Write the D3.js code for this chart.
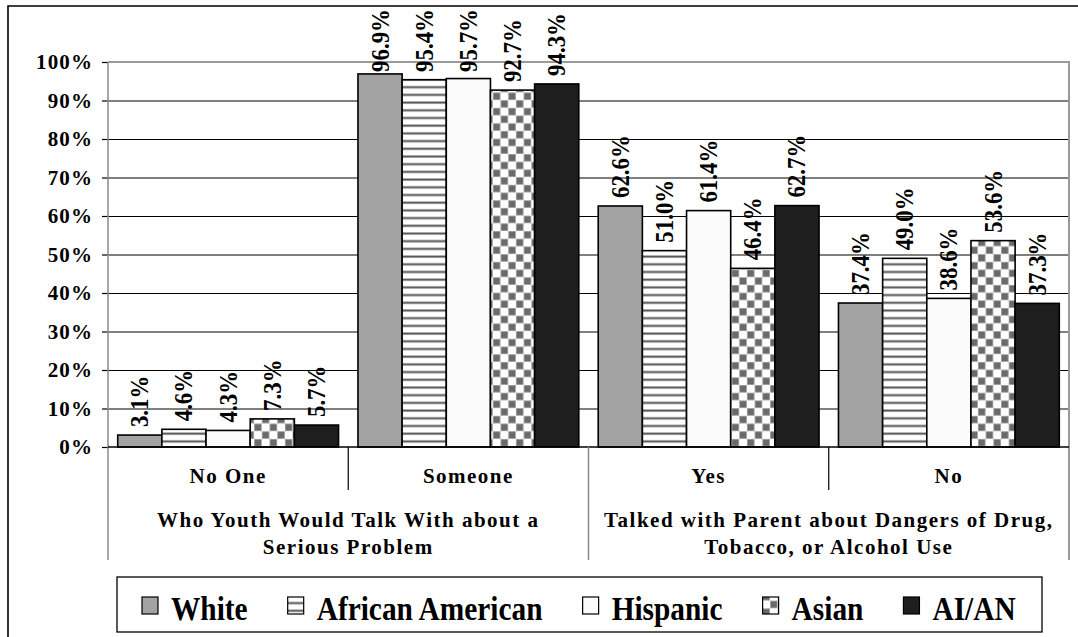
<!DOCTYPE html>
<html>
<head>
<meta charset="utf-8">
<script src="https://cdn.jsdelivr.net/npm/d3@7"></script>
<style>
  html, body { margin: 0; padding: 0; background: #fff; }
  svg { display: block; }
  text { font-family: "Liberation Serif", "Times New Roman", serif; font-weight: bold; fill: #000; }
</style>
</head>
<body>
<svg id="chart" width="1078" height="637"></svg>
<script>
// ---------------- DATA ----------------
const categories = ["No One", "Someone", "Yes", "No"];
const groupLabels = [
  ["Who Youth Would Talk With about a", "Serious Problem"],
  ["Talked with Parent about Dangers of Drug,", "Tobacco, or Alcohol Use"]
];
const groupSizes = [2, 2];
const seriesNames = ["White", "African American", "Hispanic", "Asian", "AI/AN"];
const whiteValues    = [3.1, 96.9, 62.6, 37.4];
const africanValues  = [4.6, 95.4, 51.0, 49.0];
const hispanicValues = [4.3, 95.7, 61.4, 38.6];
const asianValues    = [7.3, 92.7, 46.4, 53.6];
const aianValues     = [5.7, 94.3, 62.7, 37.3];
const yTickValues = [0, 10, 20, 30, 40, 50, 60, 70, 80, 90, 100];
const yTickLabels = ["0%", "10%", "20%", "30%", "40%", "50%", "60%", "70%", "80%", "90%", "100%"];

const seriesValues = [whiteValues, africanValues, hispanicValues, asianValues, aianValues];

// ---------------- LAYOUT ----------------
const svg = d3.select("#chart");
const plot = { left: 108, right: 1069, top: 62, bottom: 447 };
const fills = ["#a3a3a3", "url(#stripes)", "#fbfbfb", "url(#checker)", "#1e1e1e"];

// patterns
const defs = svg.append("defs");
const stripes = defs.append("pattern").attr("id", "stripes")
  .attr("patternUnits", "userSpaceOnUse").attr("width", 8).attr("height", 7.7);
stripes.append("rect").attr("width", 8).attr("height", 7.7).attr("fill", "#ffffff");
stripes.append("rect").attr("y", 1).attr("width", 8).attr("height", 3).attr("fill", "#c8c8c8");
stripes.append("rect").attr("y", 1.7).attr("width", 8).attr("height", 1.6).attr("fill", "#555555");

const checker = defs.append("pattern").attr("id", "checker")
  .attr("patternUnits", "userSpaceOnUse").attr("width", 15.4).attr("height", 15.4);
checker.append("rect").attr("width", 15.4).attr("height", 15.4).attr("fill", "#ffffff");
[[0, 0], [7.7, 7.7]].forEach(([px, py]) => {
  checker.append("rect").attr("x", px).attr("y", py).attr("width", 7.7).attr("height", 7.7).attr("fill", "#a9a9a9");
  checker.append("rect").attr("x", px + 0.8).attr("y", py + 0.8).attr("width", 6.1).attr("height", 6.1).attr("fill", "#6a6a6a");
});

// outer frame (cropped at right/bottom)
svg.append("path").attr("d", "M8,637 L8,6 L1078,6")
  .attr("fill", "none").attr("stroke", "#000").attr("stroke-width", 1.6);

// scales
const y = d3.scaleLinear().domain([0, 100]).range([plot.bottom, plot.top]);
const x0 = d3.scaleBand().domain(categories).range([plot.left, plot.right]).paddingInner(0).paddingOuter(0);
const x1 = d3.scaleBand().domain(seriesNames).range([0, x0.bandwidth()]).paddingInner(0).paddingOuter(0.22);

// gridlines
svg.append("g").selectAll("line").data(yTickValues.filter(v => v > 0 && v < 100)).join("line")
  .attr("x1", plot.left).attr("x2", plot.right)
  .attr("y1", d => y(d) + 0.5).attr("y2", d => y(d) + 0.5)
  .attr("stroke", "#000").attr("stroke-width", 1);
// plot top and right border (gray)
svg.append("path")
  .attr("d", `M${plot.left},${y(100)} L${plot.right},${y(100)} L${plot.right},560`)
  .attr("fill", "none").attr("stroke", "#9a9a9a").attr("stroke-width", 2);

// y axis
const yAxis = d3.axisLeft(y).tickValues(yTickValues).tickSize(6).tickPadding(9)
  .tickFormat((d, i) => yTickLabels[i]);
const gy = svg.append("g").attr("transform", `translate(${plot.left},0)`).call(yAxis);
gy.select(".domain").remove();
gy.selectAll(".tick line").attr("stroke", "#000").attr("stroke-width", 1.2);
gy.selectAll(".tick text")
  .attr("font-size", 21).attr("letter-spacing", "1.1px")
  .attr("font-family", "Liberation Serif, serif").attr("font-weight", "bold").attr("fill", "#000");
// left axis line
svg.append("line").attr("x1", plot.left).attr("x2", plot.left)
  .attr("y1", plot.top).attr("y2", 560).attr("stroke", "#8a8a8a").attr("stroke-width", 1.5);

// bars
const barG = svg.append("g");
seriesNames.forEach((s, si) => {
  barG.append("g").selectAll("rect").data(categories).join("rect")
    .attr("x", c => x0(c) + x1(s))
    .attr("y", (c, ci) => y(seriesValues[si][ci]))
    .attr("width", x1.bandwidth())
    .attr("height", (c, ci) => y(0) - y(seriesValues[si][ci]))
    .attr("fill", fills[si])
    .attr("stroke", "#000").attr("stroke-width", 1.6);
});

// x axis baseline
svg.append("line").attr("x1", plot.left).attr("x2", plot.right)
  .attr("y1", plot.bottom).attr("y2", plot.bottom).attr("stroke", "#000").attr("stroke-width", 1.5);

// value labels (rotated)
const labelScale = 0.88;
seriesNames.forEach((s, si) => {
  categories.forEach((c, ci) => {
    const v = seriesValues[si][ci];
    const cx = x0(c) + x1(s) + x1.bandwidth() / 2;
    const t = svg.append("text").text(d3.format(".1f")(v) + "%")
      .attr("font-size", 26);
    const len = t.node().getComputedTextLength() * labelScale;
    let bottom = y(v) - 8;
    if (bottom - len < 9) bottom = 9 + len;
    t.attr("transform", `translate(${cx + 8.5},${bottom}) rotate(-90) scale(${labelScale},1)`);
  });
});

// category labels and dividers
svg.append("g").selectAll("text").data(categories).join("text")
  .attr("x", c => x0(c) + x0.bandwidth() / 2).attr("y", 483)
  .attr("text-anchor", "middle").attr("font-size", 21).attr("letter-spacing", "1.5px")
  .text(c => c);

let ci = 0;
const groupBounds = [];
groupSizes.forEach((n, gi) => {
  const start = x0(categories[ci]);
  const end = x0(categories[ci + n - 1]) + x0.bandwidth();
  groupBounds.push([start, end]);
  for (let k = 1; k < n; k++) {
    const xx = x0(categories[ci + k]);
    svg.append("line").attr("x1", xx).attr("x2", xx).attr("y1", plot.bottom).attr("y2", 490)
      .attr("stroke", "#000").attr("stroke-width", 1.2);
  }
  ci += n;
});
groupBounds.forEach(([a, b], gi) => {
  if (gi > 0) {
    svg.append("line").attr("x1", a).attr("x2", a).attr("y1", plot.bottom).attr("y2", 560)
      .attr("stroke", "#8a8a8a").attr("stroke-width", 1.5);
  }
  groupLabels[gi].forEach((line, li) => {
    svg.append("text").attr("x", (a + b) / 2).attr("y", 527 + li * 27)
      .attr("text-anchor", "middle").attr("font-size", 21).attr("letter-spacing", "1.5px")
      .text(line);
  });
});

// legend
const legBox = { x: 117, y: 577, w: 925, h: 55 };
svg.append("rect").attr("x", legBox.x).attr("y", legBox.y).attr("width", legBox.w).attr("height", legBox.h)
  .attr("fill", "#fff").attr("stroke", "#000").attr("stroke-width", 1.3);
const legScale = 0.89;
let lx = legBox.x + 25;
seriesNames.forEach((s, si) => {
  svg.append("rect").attr("x", lx).attr("y", 597).attr("width", 16).attr("height", 17)
    .attr("fill", fills[si]).attr("stroke", "#000").attr("stroke-width", 1.2);
  const t = svg.append("text").text(s).attr("font-size", 33);
  const w = t.node().getComputedTextLength() * legScale;
  t.attr("transform", `translate(${lx + 29},620) scale(${legScale},1)`);
  lx += 29 + w + 40;
});
</script>
</body>
</html>
